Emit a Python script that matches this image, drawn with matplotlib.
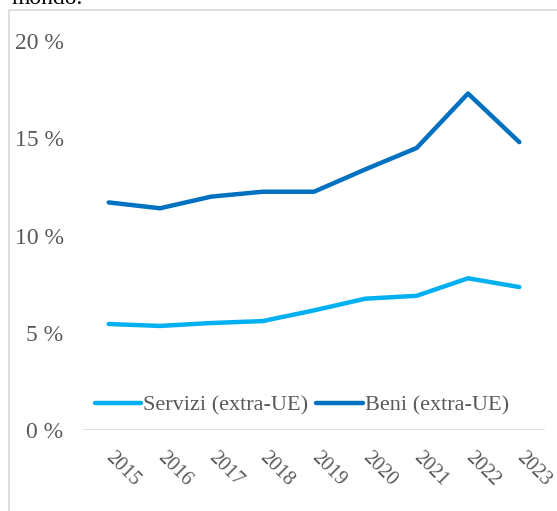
import matplotlib
matplotlib.use('Agg')
from matplotlib import pyplot as plt
from matplotlib.patches import Rectangle

years = ['2015', '2016', '2017', '2018', '2019', '2020', '2021', '2022', '2023']
servizi = [5.45, 5.35, 5.5, 5.6, 6.15, 6.75, 6.9, 7.8, 7.35]
beni = [11.7, 11.4, 12.0, 12.25, 12.25, 13.4, 14.5, 17.3, 14.8]
yticks = [0, 5, 10, 15, 20]
ylabels = ['0 %', '5 %', '10 %', '15 %', '20 %']

grey = '#595959'
plt.rcParams['font.family'] = ['Liberation Serif', 'DejaVu Serif']

fig = plt.figure(figsize=(5.57, 5.11), dpi=100)

# cornice del grafico (tagliata a destra e in basso)
fig.patches.append(Rectangle((9 / 557, -0.05), 1.2, 1 - 10 / 511 + 0.05,
                             transform=fig.transFigure, fill=False,
                             edgecolor='#d9d9d9', linewidth=1.2))
# resto del testo sopra il grafico
fig.text(12 / 557, 1 - 4 / 511, 'mondo.', fontsize=17, color='black',
         va='baseline', ha='left')

ax = fig.add_axes([83 / 557, 1 - 430 / 511, 462 / 557, 389 / 511])
x = range(len(years))
ax.plot(x, servizi, color='#00B0F0', linewidth=3.2, solid_capstyle='round',
        label='Servizi (extra-UE)')
ax.plot(x, beni, color='#0070C0', linewidth=3.2, solid_capstyle='round',
        label='Beni (extra-UE)')
ax.axhline(0, color='#d9d9d9', linewidth=1.2, zorder=0)

ax.set_xlim(-0.5, len(years) - 0.5)
ax.set_ylim(0, 20)
ax.set_yticks(yticks)
ax.set_yticklabels(ylabels, fontsize=17, color=grey)
ax.set_xticks(list(x))
ax.set_xticklabels(years, fontsize=14.5, color=grey, rotation=-45,
                   rotation_mode='anchor', ha='left', va='center')
ax.tick_params(axis='both', length=0)
ax.tick_params(axis='y', pad=14)
ax.tick_params(axis='x', pad=18)
for s in ax.spines.values():
    s.set_visible(False)

ax.legend(loc='center', bbox_to_anchor=(0.474, 0.064), ncol=2, frameon=False,
          fontsize=16, labelcolor=grey, handlelength=2.1, handletextpad=0.1,
          columnspacing=0.35, borderaxespad=0)

fig.savefig('out.png', dpi=100)
